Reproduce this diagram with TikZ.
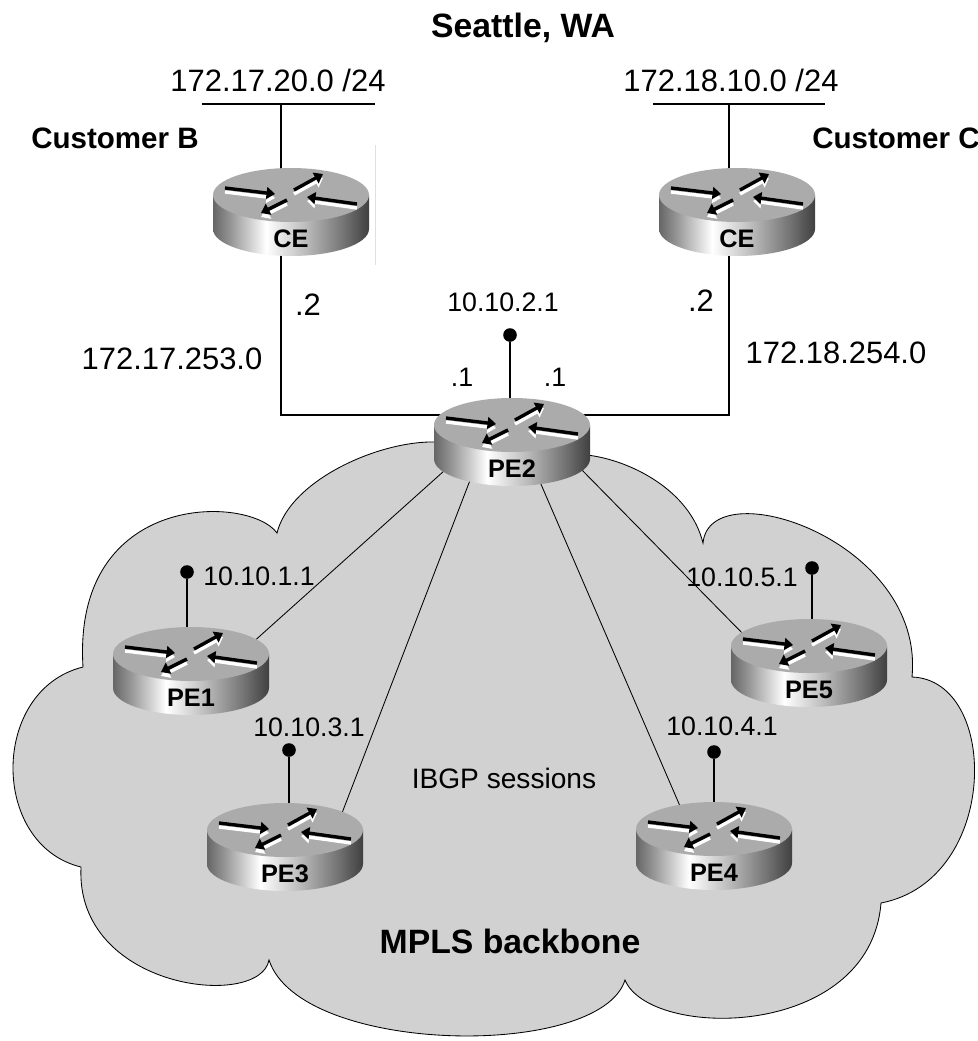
\documentclass[tikz,border=0pt]{standalone}
\usepackage{fontspec}
\setmainfont{Liberation Sans}
\usetikzlibrary{arrows.meta}

\pgfdeclarelayer{cloud}
\pgfdeclarelayer{links}
\pgfdeclarelayer{icons}
\pgfsetlayers{cloud,links,icons,main}

% side of the router drum: dark edges, bright band left of the middle
\pgfdeclarehorizontalshading{routerside}{100bp}{color(0bp)=(black!60); color(25bp)=(black!60); color(31bp)=(black!40); color(42bp)=(white); color(54bp)=(black!25); color(67bp)=(black!55); color(75bp)=(black!75); color(100bp)=(black!75)}

\newcommand\routericon[1]{%
  \begin{pgfonlayer}{icons}
    \begin{scope}[shift={(#1.center)}, x=0.025cm, y=0.025cm]
      \shade[shading=routerside] (-78,17) -- (-78,-17) arc[start angle=180, end angle=360, x radius=78, y radius=27] -- (78,17) -- cycle;
      \fill[black!33] (0,17) ellipse[x radius=78, y radius=27];
      \begin{scope}[shift={(0,17)}]
        \foreach \xa/\ya/\xb/\yb in {-66/7/-16/1, 66/-9/16/-2, 3/5/32/21, -4/-5/-30/-18} {
          \draw[rarrow, white] (\xa,\ya-4) -- (\xb,\yb-4);
          \draw[rarrow] (\xa,\ya) -- (\xb,\yb);
        }
      \end{scope}
    \end{scope}
  \end{pgfonlayer}}

\begin{document}
\begin{tikzpicture}[x=0.025cm, y=-0.025cm,
    link/.style={line width=0.8pt},
    session/.style={line width=0.6pt, shorten <=-0.6cm, shorten >=-0.6cm},
    rarrow/.style={line width=2.4pt, -{Triangle[length=6pt, width=8.5pt]}},
    router/.style={rectangle, inner sep=0pt, minimum width=3.9cm, minimum height=2.2cm,
      text height=1.75cm, text depth=0pt, font=\bfseries\fontsize{18}{20}\selectfont},
    lo/.style={circle, fill=black, inner sep=0pt, minimum size=0.34cm},
    site/.style={inner sep=0pt, font=\bfseries\fontsize{21}{25}\selectfont},
    net/.style={inner sep=0pt, font=\fontsize{22}{26}\selectfont},
    ip/.style={inner sep=0pt, font=\fontsize{19}{22}\selectfont}]

  \path[use as bounding box] (0,0) rectangle (978,1041);

  \node[router] (ceb) at (291,212) {CE};
  \node[router] (cec) at (737,212) {CE};
  \node[router] (pe2) at (512,442) {PE2};
  \node[router] (pe1) at (191,671) {PE1};
  \node[router] (pe5) at (809,663) {PE5};
  \node[router] (pe3) at (285,847) {PE3};
  \node[router] (pe4) at (714,846) {PE4};
  \foreach \r in {ceb,cec,pe1,pe2,pe3,pe4,pe5} {\routericon{\r}}

  \node[lo] (lo2) at (510,335) {};
  \node[lo] (lo1) at (187,572) {};
  \node[lo] (lo5) at (812,568) {};
  \node[lo] (lo3) at (289,750) {};
  \node[lo] (lo4) at (714,752) {};

  \coordinate (lanb-w) at (202,104);
  \coordinate (lanb-e) at (375,104);
  \coordinate (lanc-w) at (653,104);
  \coordinate (lanc-e) at (825,104);
  \coordinate (tapb) at (281,104);
  \coordinate (tapc) at (729,104);
  \coordinate (cornb) at (281,415);
  \coordinate (cornc) at (729,415);

  \begin{pgfonlayer}{links}
    \draw[link] (lanb-w) -- (lanb-e);
    \draw[link] (lanc-w) -- (lanc-e);
    \draw[link] (tapb) -- (tapb |- ceb.center);
    \draw[link] (tapc) -- (tapc |- cec.center);
    \draw[link] (tapb |- ceb.center) -- (cornb) -- (cornb -| pe2.center);
    \draw[link] (tapc |- cec.center) -- (cornc) -- (cornc -| pe2.center);
    \foreach \n in {1,...,5}
      \draw[link] (lo\n) -- (lo\n |- pe\n.center);
    \draw[session] (pe2.206) -- (pe1.29);
    \draw[session] (pe2.225) -- (pe3.36);
    \draw[session] (pe2.304) -- (pe4.129);
    \draw[session] (pe2.335) -- (pe5.152);
  \end{pgfonlayer}

  \begin{pgfonlayer}{cloud}
    \fill[white] (0,0) rectangle (978,1041);
    \draw[black!12, line width=0.6pt] (375,145) -- (375,265);
    \filldraw[fill=black!18, draw=black, line width=0.6pt] (512,445) -- (437,442)
      .. controls (380,440) and (290,480) .. (277,533)
      .. controls (250,495) and (72,490) .. (83,667)
      .. controls (-10,690) and (-10,845) .. (81,867)
      .. controls (75,990) and (260,1010) .. (269,960)
      .. controls (300,1055) and (600,1060) .. (625,980)
      .. controls (650,1040) and (870,1040) .. (881,903)
      .. controls (1000,880) and (1000,680) .. (912,677)
      .. controls (925,540) and (710,470) .. (703,543)
      .. controls (690,490) and (630,460) .. (587,455)
      -- cycle;
  \end{pgfonlayer}

  \node[site, font=\bfseries\fontsize{24}{28}\selectfont] (city) at (523,28) {Seattle, WA};
  \node[net] (netb) at (278,80) {172.17.20.0 /24};
  \node[net] (netc) at (731,80) {172.18.10.0 /24};
  \node[site, anchor=west] (custb) at (31,138) {Customer B};
  \node[site, anchor=west] (custc) at (812,138) {Customer C};
  \node[net] (ceb-ip) at (308,305) {.2};
  \node[net] (cec-ip) at (701,301) {.2};
  \node[ip] (pe2-ipb) at (462,377) {.1};
  \node[ip] (pe2-ipc) at (555,377) {.1};
  \node[net] (segb) at (172,359) {172.17.253.0};
  \node[net] (segc) at (836,353) {172.18.254.0};
  \node[ip] (ip2) at (503,302) {10.10.2.1};
  \node[ip] (ip1) at (259,576) {10.10.1.1};
  \node[ip] (ip5) at (742,577) {10.10.5.1};
  \node[ip] (ip3) at (309,727) {10.10.3.1};
  \node[ip] (ip4) at (722,726) {10.10.4.1};
  \node[inner sep=0pt, font=\fontsize{20}{24}\selectfont] (ibgp) at (504,778) {IBGP sessions};
  \node[site, font=\bfseries\fontsize{24}{28}\selectfont] (mpls) at (510,941) {MPLS backbone};
\end{tikzpicture}
\end{document}
